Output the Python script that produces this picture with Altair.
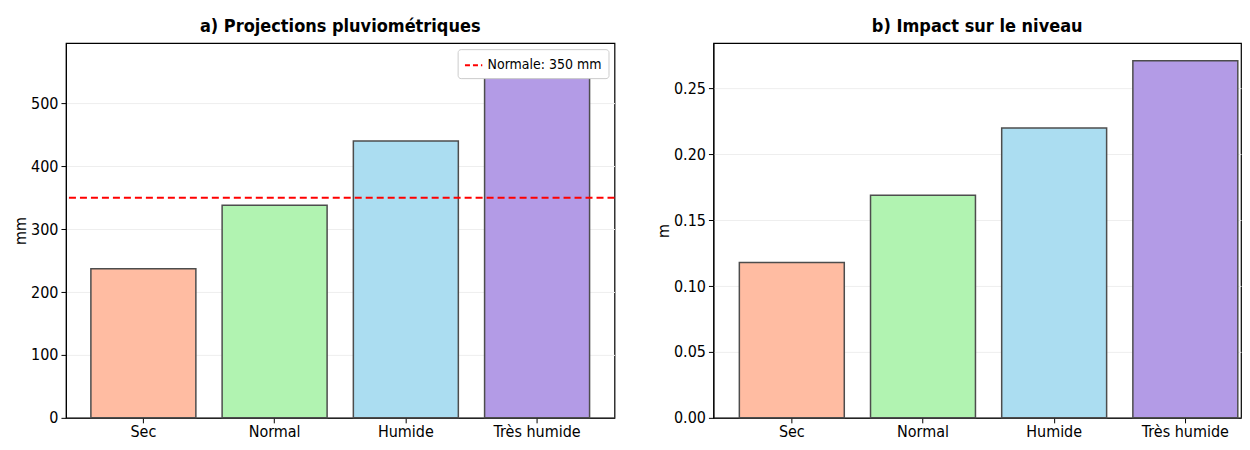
import altair as alt
import pandas as pd

categories = ["Sec", "Normal", "Humide", "Très humide"]
rain_mm = [237, 338, 440, 541]
level_m = [0.118, 0.169, 0.220, 0.271]
colors = ["#FFBCA2", "#B1F3B1", "#ABDDF1", "#B39BE6"]
normal_value = [350]
normal_label = ["Normale: 350 mm"]

df = pd.DataFrame({"cat": categories, "rain": rain_mm, "level": level_m, "col": colors})
df_norm = pd.DataFrame({"v": normal_value, "lab": normal_label})

FONT = "DejaVu Sans Condensed"
H = 375
LFS = 16


def xenc(pad_outer, align):
    return alt.X("cat:N", sort=categories, title=None,
                 scale=alt.Scale(paddingInner=0.2, paddingOuter=pad_outer, align=align),
                 axis=alt.Axis(labelAngle=0, labelFontSize=LFS, tickSize=5, labelPadding=1,
                               domainColor="black", tickColor="black", labelColor="black",
                               grid=False))


def yaxis(fmt, values):
    return alt.Axis(values=values, format=fmt, labelFontSize=LFS, tickSize=5, labelPadding=3,
                    domainColor="black", tickColor="black", labelColor="black",
                    gridColor="#eeeeee", gridWidth=1, titleFontSize=LFS, titleFontWeight="normal",
                    titlePadding=2, titleColor="black")


bars_a = alt.Chart(df).mark_bar(strokeWidth=1.5, stroke="#4d4d4d").encode(
    x=xenc(0.19, 0.5),
    y=alt.Y("rain:Q", title="mm", scale=alt.Scale(domain=[0, 595.6], nice=False),
            axis=yaxis("d", [0, 100, 200, 300, 400, 500])),
    fill=alt.Fill("col:N", scale=None),
)
rule = alt.Chart(df_norm).mark_rule(strokeWidth=2, strokeDash=[7, 4]).encode(
    y="v:Q",
    stroke=alt.Stroke("lab:N", scale=alt.Scale(domain=normal_label, range=["red"]),
                      legend=alt.Legend(orient="top-right", title=None, symbolType="stroke",
                                        symbolDash=[5, 3], symbolStrokeWidth=2, symbolSize=300,
                                        fillColor="white", strokeColor="#cccccc", padding=6,
                                        cornerRadius=3, labelFontSize=14, offset=6,
                                        labelColor="black")),
)
left = alt.layer(bars_a, rule).properties(
    width=549, height=H,
    title=alt.TitleParams("a) Projections pluviométriques", fontSize=18, fontWeight="bold",
                          offset=7, color="black"))

bars_b = alt.Chart(df).mark_bar(strokeWidth=1.5, stroke="#4d4d4d").encode(
    x=xenc(0.111, 0.89),
    y=alt.Y("level:Q", title="m", scale=alt.Scale(domain=[0, 0.2844], nice=False),
            axis=yaxis(".2f", [0, 0.05, 0.10, 0.15, 0.20, 0.25])),
    fill=alt.Fill("col:N", scale=None),
)
right = bars_b.properties(
    width=528, height=H,
    title=alt.TitleParams("b) Impact sur le niveau", fontSize=18, fontWeight="bold",
                          offset=7, color="black"))

chart = alt.hconcat(left, right, spacing=38).resolve_legend(stroke="independent").properties(
    padding={"top": 9, "left": 3, "right": 0, "bottom": 0}).configure(
    font=FONT).configure_view(stroke="black", strokeWidth=1.2)

chart.save("out.html", embed_options={"renderer": "svg", "actions": False})
